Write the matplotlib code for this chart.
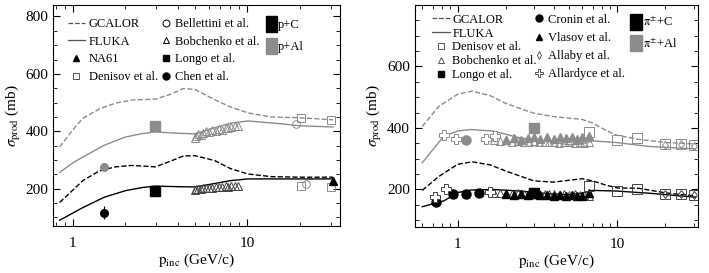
import matplotlib.pyplot as plt
from matplotlib.lines import Line2D
from matplotlib.patches import Patch

plt.rcParams['font.family'] = ['Liberation Serif', 'DejaVu Serif']
plt.rcParams['mathtext.fontset'] = 'stix'

GRAY = '#8c8c8c'

# ---------------- left panel: protons ----------------
# model curves (p in GeV/c, sigma in mb)
p_model_l = [0.84, 1.0, 1.14, 1.42, 1.75, 2.19, 2.97, 3.6, 4.3, 5.0, 6.5, 8.0, 10.1, 13.7, 20.2, 31]
gcalor_al = [345, 405, 445, 478, 498, 509, 512, 528, 549, 546, 510, 485, 464, 450, 447, 440]
gcalor_c = [152, 195, 228, 262, 276, 281, 276, 295, 314, 315, 298, 270, 251, 242, 240, 240]
p_fluka_l = [0.84, 1.0, 1.14, 1.51, 2.0, 2.5, 2.97, 4.0, 5.0, 6.5, 8.0, 10.1, 15, 20.2, 31]
fluka_al = [257, 290, 310, 351, 380, 392, 398, 393, 391, 412, 428, 436, 427, 419, 415]
fluka_c = [90, 115, 134, 170, 193, 204, 209, 207, 206, 218, 228, 234, 234, 234, 234]

# data points
chen_p = [1.51]
chen_c = [117]
chen_c_err = [22]
chen_al = [275]
longo_p = [2.97]
longo_c = [193]
longo_al = [418]
longo_al_err = [14]
bob_p = [5.0, 5.1, 5.2, 5.4, 5.6, 5.8, 6.0, 6.3, 6.6, 6.9, 7.2, 7.5, 7.8, 8.1, 8.5, 8.9]
bob_al = [375, 383, 392, 387, 395, 400, 398, 404, 402, 408, 405, 412, 410, 415, 418, 420]
bob_c = [195, 198, 200, 199, 202, 201, 204, 203, 206, 205, 207, 208, 207, 209, 210, 210]
bell_p_al, bell_al = [19.0], [427]
bell_p_c, bell_c = [21.6], [216]
den_p = [20.2, 30]
den_al = [448, 441]
den_c = [210, 205]
na61_p, na61_c = [31], [226]

# ---------------- right panel: pions ----------------
p_gc_r = [0.6, 0.76, 1.0, 1.23, 1.6, 2.0, 3.0, 4.0, 6.0, 7.0, 8.5, 10.0, 13.6, 20, 30.8]
gc_pi_al = [405, 470, 510, 520, 505, 480, 448, 437, 428, 416, 392, 376, 363, 353, 348]
gc_pi_c = [197, 242, 282, 290, 280, 260, 228, 224, 235, 228, 214, 205, 204, 189, 179]
p_fl_r = [0.6, 0.82, 1.0, 1.2, 1.67, 2.45, 3.76, 5.0, 6.0, 7.0, 9.8, 15.7, 30.8]
fl_pi_al = [287, 374, 390, 395, 390, 368, 355, 345, 348, 358, 353, 340, 332]
fl_pi_c = [144, 163, 190, 198, 200, 195, 186, 183, 188, 197, 195, 188, 175]

cronin_p = [0.73, 0.94, 1.12, 1.35]
cronin_c = [158, 186, 186, 189]
cronin_p_al, cronin_al, cronin_al_err = [1.12], [361], [15]
allard_p_c = [0.72, 0.84, 1.6]
allard_c = [176, 203, 193]
allard_c_err = [12, 0, 0]
allard_p_al = [0.82, 0.97, 1.5, 1.72]
allard_al = [378, 363, 365, 373]
longo_pi_p = [3.0]
longo_pi_c = [189]
longo_pi_al, longo_pi_al_err = [400], [16]
pbob_p = [1.7, 1.85, 2.0, 2.2, 2.4, 2.6, 2.8, 3.0, 3.25, 3.5, 3.75, 4.0, 4.3, 4.6, 5.0, 5.4, 5.8, 6.2, 6.6]
pbob_c = [190, 188, 190, 186, 188, 185, 187, 188, 185, 186, 184, 186, 183, 185, 182, 184, 181, 183, 180]
pbob_al = [362, 358, 360, 355, 358, 356, 354, 357, 355, 353, 356, 354, 352, 355, 353, 351, 354, 352, 355]
vlas_p = [2.0, 2.25, 2.5, 2.75, 3.0, 3.3, 3.6, 4.0, 4.4, 4.8, 5.2, 5.6, 6.0, 6.6]
vlas_c = [185, 183, 186, 182, 184, 181, 183, 180, 182, 179, 181, 178, 180, 190]
vlas_al = [362, 366, 360, 368, 372, 365, 370, 364, 372, 366, 370, 365, 372, 375]
pden_p = [6.66, 10, 13.3, 20, 25, 30]
pden_c = [212, 196, 202, 184, 186, 182]
pden_al = [386, 361, 366, 348, 348, 345]
allaby_p = [20, 25, 30]
allaby_c = [184, 186, 182]
allaby_al = [346, 348, 343]

fig = plt.figure(figsize=(7.09, 2.73), dpi=100)
ax1 = fig.add_axes([0.0748, 0.1722, 0.4048, 0.8095])
ax2 = fig.add_axes([0.5853, 0.1685, 0.3992, 0.8132])

ms = 5.5


def style_axis(ax, xlim, ylim, yticks):
    ax.set_xscale('log')
    ax.set_xlim(*xlim)
    ax.set_ylim(*ylim)
    ax.set_yticks(yticks)
    ax.set_yticks(range(100, 850, 50), minor=True)
    ax.set_xticks([1, 10])
    ax.set_xticklabels(['1', '10'])
    ax.tick_params(which='both', direction='in', top=True, right=True, labelsize=11)
    ax.tick_params(which='major', length=5, width=0.8)
    ax.tick_params(which='minor', length=3, width=0.6)
    ax.tick_params(axis='x', pad=8)
    ax.set_xlabel(r'$\mathrm{p_{inc}}$ (GeV/c)', fontsize=11, labelpad=1)
    ax.set_ylabel(r'$\sigma_{\mathrm{prod}}$ (mb)', fontsize=11, labelpad=2)
    for s in ax.spines.values():
        s.set_linewidth(0.8)


# ---- left ----
ax1.plot(p_model_l, gcalor_al, '--', color=GRAY, lw=1)
ax1.plot(p_fluka_l, fluka_al, '-', color=GRAY, lw=1)
ax1.plot(p_model_l, gcalor_c, '--', color='black', lw=1)
ax1.plot(p_fluka_l, fluka_c, '-', color='black', lw=1)

ax1.errorbar(chen_p, chen_c, yerr=chen_c_err, fmt='o', color='black', ms=ms, elinewidth=0.8)
ax1.plot(chen_p, chen_al, 'o', color=GRAY, ms=ms)
ax1.plot(longo_p, longo_c, 's', color='black', ms=ms + 1)
ax1.errorbar(longo_p, longo_al, yerr=longo_al_err, fmt='s', color=GRAY, ms=ms + 1, elinewidth=0.8)
ax1.plot(bob_p, bob_al, '^', mfc='none', mec=GRAY, ms=ms, mew=0.7)
ax1.plot(bob_p, bob_c, '^', mfc='none', mec='#444444', ms=ms, mew=0.7)
ax1.plot(bell_p_al, bell_al, 'o', mfc='none', mec=GRAY, ms=ms, mew=0.7)
ax1.plot(bell_p_c, bell_c, 'o', mfc='none', mec=GRAY, ms=ms, mew=0.7)
ax1.plot(den_p, den_al, 's', mfc='none', mec=GRAY, ms=ms, mew=0.7)
ax1.plot(den_p, den_c, 's', mfc='none', mec=GRAY, ms=ms, mew=0.7)
ax1.plot(na61_p, na61_c, '^', color='black', ms=ms)

style_axis(ax1, (0.77, 34), (70, 840), [200, 400, 600, 800])

h1 = [Line2D([], [], ls='--', color='#555555', lw=0.9),
      Line2D([], [], ls='-', color='#555555', lw=0.9),
      Line2D([], [], ls='none', marker='^', color='black', ms=5),
      Line2D([], [], ls='none', marker='s', mfc='none', mec='#555555', ms=5, mew=0.7)]
l1 = ax1.legend(h1, ['GCALOR', 'FLUKA', 'NA61', 'Denisov et al.'], loc='upper left',
                bbox_to_anchor=(0.02, 0.98), frameon=False, fontsize=9, handlelength=1.4,
                handletextpad=0.3, labelspacing=0.45, borderaxespad=0.3)
ax1.add_artist(l1)
h2 = [Line2D([], [], ls='none', marker='o', mfc='none', mec='black', ms=5, mew=0.7),
      Line2D([], [], ls='none', marker='^', mfc='none', mec='black', ms=5, mew=0.7),
      Line2D([], [], ls='none', marker='s', color='black', ms=5),
      Line2D([], [], ls='none', marker='o', color='black', ms=5)]
l2 = ax1.legend(h2, ['Bellettini et al.', 'Bobchenko et al.', 'Longo et al.', 'Chen et al.'],
                loc='upper left', bbox_to_anchor=(0.345, 0.98), frameon=False, fontsize=9,
                handlelength=0.8, handletextpad=0.3, labelspacing=0.45, borderaxespad=0.3)
ax1.add_artist(l2)
h3 = [Patch(color='black'), Patch(color=GRAY)]
ax1.legend(h3, ['p+C', 'p+Al'], loc='upper left', bbox_to_anchor=(0.71, 0.99), frameon=False,
           fontsize=9, handlelength=0.9, handleheight=1.6, handletextpad=0.1,
           labelspacing=0.45, borderaxespad=0.3)

# ---- right ----
ax2.plot(p_gc_r, gc_pi_al, '--', color=GRAY, lw=1)
ax2.plot(p_fl_r, fl_pi_al, '-', color=GRAY, lw=1)
ax2.plot(p_gc_r, gc_pi_c, '--', color='black', lw=1)
ax2.plot(p_fl_r, fl_pi_c, '-', color='black', lw=1)

ax2.plot(pbob_p, pbob_al, '^', mfc='none', mec=GRAY, ms=ms, mew=0.7)
ax2.plot(pbob_p, pbob_c, '^', mfc='none', mec='#444444', ms=ms, mew=0.7)
ax2.plot(vlas_p, vlas_al, '^', color=GRAY, ms=ms)
ax2.plot(vlas_p, vlas_c, '^', color='black', ms=ms)
ax2.plot(cronin_p, cronin_c, 'o', color='black', ms=ms + 1)
ax2.errorbar(cronin_p_al, cronin_al, yerr=cronin_al_err, fmt='o', color=GRAY, ms=ms + 1, elinewidth=0.8)
ax2.errorbar(allard_p_c, allard_c, yerr=allard_c_err, fmt='P', mfc='white', mec='#444444',
             ecolor='#444444', ms=ms + 1.5, mew=0.7, elinewidth=0.7)
ax2.plot(allard_p_al, allard_al, 'P', mfc='white', mec=GRAY, ms=ms + 1.5, mew=0.7)
ax2.plot(longo_pi_p, longo_pi_c, 's', color='black', ms=ms + 1)
ax2.errorbar(longo_pi_p, longo_pi_al, yerr=longo_pi_al_err, fmt='s', color=GRAY, ms=ms + 1, elinewidth=0.8)
ax2.plot(pden_p, pden_al, 's', mfc='none', mec=GRAY, ms=ms + 1, mew=0.7)
ax2.plot(pden_p, pden_c, 's', mfc='none', mec='#444444', ms=ms + 1, mew=0.7)
ax2.plot(allaby_p, allaby_al, 'd', mfc='none', mec=GRAY, ms=ms - 1, mew=0.7)
ax2.plot(allaby_p, allaby_c, 'd', mfc='none', mec='#444444', ms=ms - 1, mew=0.7)

style_axis(ax2, (0.54, 32), (78, 780), [200, 400, 600])

h4 = [Line2D([], [], ls='--', color='#555555', lw=0.9),
      Line2D([], [], ls='-', color='#555555', lw=0.9),
      Line2D([], [], ls='none', marker='s', mfc='none', mec='#555555', ms=5, mew=0.7),
      Line2D([], [], ls='none', marker='^', mfc='none', mec='#555555', ms=5, mew=0.7),
      Line2D([], [], ls='none', marker='s', color='black', ms=5)]
l4 = ax2.legend(h4, ['GCALOR', 'FLUKA', 'Denisov et al.', 'Bobchenko et al.', 'Longo et al.'],
                loc='upper left', bbox_to_anchor=(0.03, 1.0), frameon=False, fontsize=9,
                handlelength=1.4, handletextpad=0.2, labelspacing=0.15, borderaxespad=0.3)
ax2.add_artist(l4)
h5 = [Line2D([], [], ls='none', marker='o', color='black', ms=5),
      Line2D([], [], ls='none', marker='^', color='black', ms=5),
      Line2D([], [], ls='none', marker='d', mfc='none', mec='#555555', ms=4, mew=0.7),
      Line2D([], [], ls='none', marker='P', mfc='white', mec='#555555', ms=6, mew=0.7)]
l5 = ax2.legend(h5, ['Cronin et al.', 'Vlasov et al.', 'Allaby et al.', 'Allardyce et al.'],
                loc='upper left', bbox_to_anchor=(0.39, 1.0), frameon=False, fontsize=9,
                handlelength=0.8, handletextpad=0.3, labelspacing=0.5, borderaxespad=0.3)
ax2.add_artist(l5)
h6 = [Patch(color='black'), Patch(color=GRAY)]
ax2.legend(h6, [r'$\mathrm{\pi^{\pm}}$+C', r'$\mathrm{\pi^{\pm}}$+Al'], loc='upper left',
           bbox_to_anchor=(0.73, 1.0), frameon=False, fontsize=9, handlelength=0.9,
           handleheight=1.6, handletextpad=0.1, labelspacing=0.45, borderaxespad=0.3)

fig.savefig('out.png', dpi=100)
